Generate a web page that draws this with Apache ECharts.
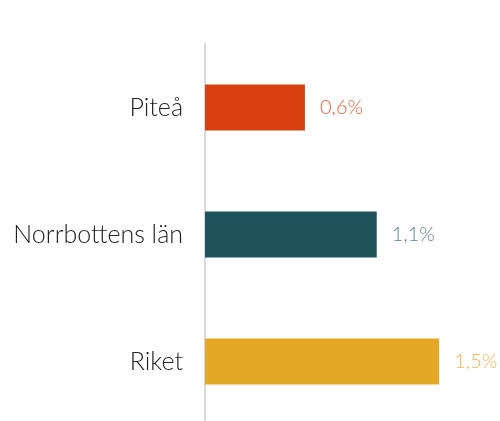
<!DOCTYPE html>
<html>
<head>
<meta charset="utf-8">
<script src="https://cdn.jsdelivr.net/npm/echarts@6/dist/echarts.min.js"></script>
<style>html,body{margin:0;padding:0;background:#fff;}#c{width:500px;height:421px;}</style>
</head>
<body>
<div id="c"></div>
<script>
const categories = ["Piteå", "Norrbottens län", "Riket"];
const values = [0.64, 1.1, 1.5];
const barColors = ["#D84011", "#1F535B", "#E3A826"];
const labelColors = ["#E0653F", "#5E8188", "#EAB857"];

const chart = echarts.init(document.getElementById('c'), null, {renderer: 'canvas'});
chart.setOption({
  animation: false,
  grid: {left: 205, right: 14, top: 44, height: 381, containLabel: false, outerBoundsMode: 'none'},
  xAxis: {type: 'value', min: 0, max: 1.8, show: false},
  yAxis: {
    type: 'category', data: categories, inverse: true,
    axisLine: {show: true, lineStyle: {color: '#d9d9d9', width: 2}},
    axisTick: {show: false},
    axisLabel: {color: '#222', fontSize: 25, fontWeight: 300, fontFamily: 'Lato', margin: 22}
  },
  series: [{
    type: 'bar',
    barWidth: 46,
    data: values.map((v, i) => ({
      value: v,
      itemStyle: {color: barColors[i]},
      label: {color: labelColors[i]}
    })),
    label: {
      show: true, position: 'right', distance: 15,
      fontSize: 20, fontWeight: 300, fontFamily: 'Lato',
      formatter: p => p.value.toFixed(1).replace('.', ',') + '%'
    }
  }]
});
</script>
</body>
</html>
